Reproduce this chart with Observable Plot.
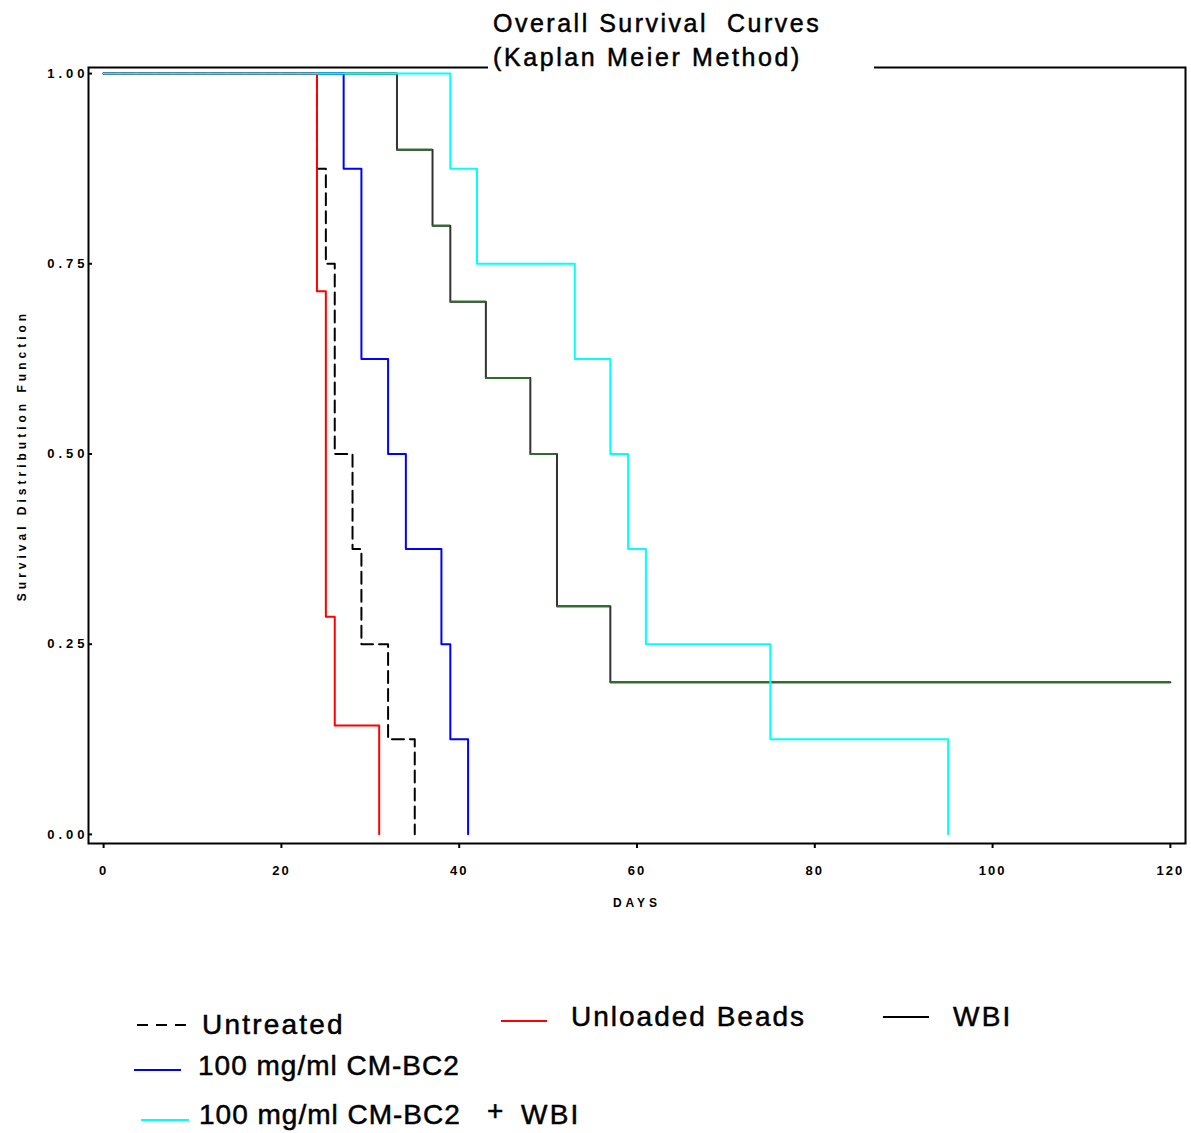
<!DOCTYPE html>
<html>
<head>
<meta charset="utf-8">
<script src="https://cdn.jsdelivr.net/npm/d3@7"></script>
<script src="https://cdn.jsdelivr.net/npm/@observablehq/plot@0.6"></script>
<style>
  body { margin: 0; background: #fff; font-family: "Liberation Sans", Arial, sans-serif; }
  #wrap { position: relative; width: 1191px; background: #fff; }
  .t { position: absolute; white-space: pre; color: #000; line-height: 1; -webkit-text-stroke: 0.5px #000; }
  .sw { position: absolute; height: 2px; }
</style>
</head>
<body>
<div id="wrap">
  <div id="chart"></div>
  <div id="legend" style="position: relative; height: 203px;"></div>
</div>
<script>
// ---- Data ----
const groups = ["Untreated", "Unloaded Beads", "WBI", "100 mg/ml CM-BC2", "100 mg/ml CM-BC2 + WBI"];
const colors = ["#000000", "#ff0000", "#333333", "#0000ff", "#00ffff"];

const daysUntreated = [0, 24, 25, 26, 28, 29, 32, 35];
const survUntreated = [1, 0.875, 0.75, 0.5, 0.375, 0.25, 0.125, 0];

const daysBeads = [0, 24, 25, 26, 31];
const survBeads = [1, 0.714, 0.286, 0.143, 0];

const daysWBI = [0, 33, 37, 39, 43, 48, 51, 57, 120];
const survWBI = [1, 0.9, 0.8, 0.7, 0.6, 0.5, 0.3, 0.2, 0.2];

const daysCM = [0, 27, 29, 32, 34, 38, 39, 41];
const survCM = [1, 0.875, 0.625, 0.5, 0.375, 0.25, 0.125, 0];

const daysCMWBI = [0, 39, 42, 53, 57, 59, 61, 75, 95];
const survCMWBI = [1, 0.875, 0.75, 0.625, 0.5, 0.375, 0.25, 0.125, 0];

const xTicks = [0, 20, 40, 60, 80, 100, 120];
const yTicks = [0, 0.25, 0.5, 0.75, 1];

// ---- Build tables ----
const toRows = (g, days, surv) => days.map((d, i) => ({group: g, day: d, surv: surv[i]}));
const untreated = toRows(groups[0], daysUntreated, survUntreated);
const beads = toRows(groups[1], daysBeads, survBeads);
const wbi = toRows(groups[2], daysWBI, survWBI);
const cm = toRows(groups[3], daysCM, survCM);
const cmwbi = toRows(groups[4], daysCMWBI, survCMWBI);
const wbiFlats = daysWBI.slice(0, -1).map((d, i) => ({surv: survWBI[i], x1: d, x2: daysWBI[i + 1]}));

const chart = Plot.plot({
  width: 1191,
  height: 930,
  marginLeft: 88,
  marginRight: 6,
  marginTop: 67,
  marginBottom: 87,
  style: {fontFamily: "'Liberation Sans', Arial, sans-serif", fontSize: "12px", color: "#000", background: "#fff"},
  x: {domain: [-1.7, 121.7]},
  y: {domain: [-0.012, 1.008]},
  marks: [
    Plot.frame({stroke: "#000", strokeWidth: 2}),
    Plot.axisX({ticks: xTicks, tickSize: 5, tickPadding: 17, tickFormat: d => String(d), label: "DAYS", labelAnchor: "center", labelArrow: "none", labelOffset: 63, strokeWidth: 2}),
    Plot.axisY({ticks: yTicks, tickSize: 4, tickPadding: 0, dx: 4, tickFormat: d3.format(".2f"), label: "Survival Distribution Function", labelAnchor: "center", labelArrow: "none", labelOffset: 71, strokeWidth: 2}),
    Plot.line(wbi, {x: "day", y: "surv", curve: "step-after", stroke: colors[2], strokeWidth: 2}),
    Plot.ruleY(wbiFlats, {y: "surv", x1: "x1", x2: "x2", stroke: "#2f6a2f", strokeWidth: 2}),
    Plot.line(untreated, {x: "day", y: "surv", curve: "step-after", stroke: colors[0], strokeWidth: 2, strokeDasharray: "12,6"}),
    Plot.line(cm, {x: "day", y: "surv", curve: "step-after", stroke: colors[3], strokeWidth: 2}),
    Plot.line(beads, {x: "day", y: "surv", curve: "step-after", stroke: colors[1], strokeWidth: 2}),
    Plot.line(cmwbi, {x: "day", y: "surv", curve: "step-after", stroke: colors[4], strokeWidth: 2})
  ]
});

// text styling tweaks (heavy, wide bitmap-like lettering)
const sel = s => d3.select(chart).selectAll(`g[aria-label="${s}"] text`);
sel("y-axis tick label").attr("letter-spacing", 4).attr("font-size", 13).attr("font-weight", "bold");
sel("x-axis tick label").attr("letter-spacing", 2).attr("font-size", 13).attr("font-weight", "bold");
sel("y-axis label").attr("letter-spacing", 4).attr("font-size", 12).attr("font-weight", "bold");
sel("x-axis label").attr("letter-spacing", 4).attr("font-size", 12).attr("font-weight", "bold");

document.getElementById("chart").appendChild(chart);

// ---- Title (overlays the top frame line like the original) ----
const wrap = document.getElementById("wrap");
function addText(parent, txt, left, top, size, spacing) {
  const d = document.createElement("div");
  d.className = "t";
  d.textContent = txt;
  d.style.left = left + "px";
  d.style.top = top + "px";
  d.style.fontSize = size + "px";
  d.style.letterSpacing = spacing + "px";
  parent.appendChild(d);
  return d;
}
const box = document.createElement("div");
box.style.cssText = "position:absolute;left:488px;top:0;width:386px;height:74px;background:#fff;";
wrap.appendChild(box);
addText(wrap, "Overall Survival  Curves", 493, 11, 25, 2.5);
addText(wrap, "(Kaplan Meier Method)", 493, 45, 25, 2.6);

// ---- Legend ----
const legend = document.getElementById("legend");
const top0 = 930;
function swatch(left, width, y, color, dashed) {
  const s = document.createElement("div");
  s.className = "sw";
  s.style.left = left + "px";
  s.style.top = (y - top0 - 1) + "px";
  s.style.width = width + "px";
  s.style.background = dashed
    ? `repeating-linear-gradient(to right, ${color} 0 11px, transparent 11px 19px)`
    : color;
  legend.appendChild(s);
}
const fs = 28;
const tt = (txt, left, cy, sp) => addText(legend, txt, left, cy - top0 - fs * 0.49, fs, sp);

swatch(137, 50, 1025, colors[0], true);
tt(groups[0], 202, 1025, 2.2);
swatch(501, 46, 1021, colors[1], false);
tt(groups[1], 571, 1017, 2.0);
swatch(883, 46, 1017, "#000", false);
tt(groups[2], 953, 1017, 2.2);
swatch(134, 47, 1070, colors[3], false);
tt(groups[3], 198, 1066, 1.0);
swatch(141, 48, 1120, colors[4], false);
tt(groups[3], 199, 1115, 1.0);
tt("+", 487, 1111, 0);
tt("WBI", 521, 1115, 2.2);
</script>
</body>
</html>
